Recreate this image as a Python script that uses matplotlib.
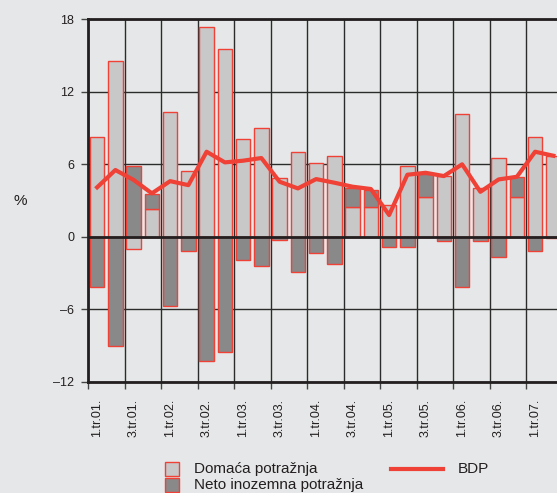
import matplotlib
matplotlib.use('Agg')
import matplotlib.pyplot as plt
from matplotlib.patches import Rectangle
from matplotlib.lines import Line2D
import numpy as np

plt.rcParams['font.family'] = ['Liberation Sans', 'DejaVu Sans']

# quarters 1.tr.01. .. 2.tr.07.
quarters = [f"{q}.tr.{y:02d}." for y in range(1, 8) for q in range(1, 5)][:26]

domaca = [8.27, 14.53, -1.02, 2.27, 10.34, 5.43, 17.32, 15.55, 8.05, 8.96,
          4.9, 7.0, 6.12, 6.67, 2.46, 2.46, 2.65, 5.82, 3.31, 5.05,
          10.15, 4.05, 6.48, 3.31, 8.27, 6.7]
neto = [-4.14, -9.04, 5.85, 1.24, -5.73, -1.18, -10.25, -9.56, -1.9, -2.4,
        -0.3, -2.95, -1.38, -2.26, 1.54, 1.4, -0.83, -0.83, 1.88, -0.33,
        -4.13, -0.33, -1.7, 1.6, -1.18, -0.14]
bdp = [4.09, 5.52, 4.7, 3.59, 4.6, 4.27, 7.03, 6.15, 6.29, 6.51,
       4.55, 4.0, 4.77, 4.47, 4.14, 3.95, 1.8, 5.13, 5.29, 5.02,
       5.99, 3.72, 4.74, 4.96, 7.03, 6.7]

yticks = [-12, -6, 0, 6, 12, 18]
ytick_labels = ['\u201312', '\u20136', '0', '6', '12', '18']

bg = '#e6e7e8'
red = '#ef4136'
light = '#c8c8c9'
dark = '#89898a'
ink = '#231f20'

fig = plt.figure(figsize=(5.57, 4.93), dpi=100, facecolor=bg)
ax = fig.add_axes([88 / 557, 111 / 493, 27 * 18.25 / 557, 363 / 493])
ax.set_facecolor(bg)

x = np.arange(len(quarters)) + 0.5
dom = np.array(domaca)
net = np.array(neto)
same_sign = np.sign(dom) == np.sign(net)
net_bottom = np.where(same_sign, dom, 0)

ax.bar(x, dom, width=0.8, color=light, edgecolor=red, linewidth=1, zorder=2)
ax.bar(x, net, bottom=net_bottom, width=0.8, color=dark, edgecolor=red,
       linewidth=1, zorder=2)
ax.plot(x, bdp, color=red, linewidth=3, zorder=4)

ax.axhline(0, color=ink, linewidth=2, zorder=3)

ax.set_xlim(0, 27)
ax.set_ylim(-12, 18)
ax.set_yticks(yticks)
ax.set_yticklabels(ytick_labels)
ax.set_xticks(np.arange(0, 27, 2))
ax.set_xticklabels([])
ax.set_xticks(x[::2], minor=True)
ax.set_xticklabels(quarters[::2], minor=True, rotation=90)
ax.tick_params(axis='x', which='minor', length=0, pad=12, labelsize=9,
               labelcolor=ink)
ax.tick_params(axis='x', which='major', length=5, width=1, color='#444')
ax.tick_params(axis='y', length=5, width=1, color='#444', labelsize=9,
               labelcolor=ink, pad=5)

ax.grid(True, which='major', color='#2b2b2b', linewidth=1, zorder=0)
ax.set_axisbelow(True)

for s in ['left', 'top', 'bottom']:
    ax.spines[s].set_linewidth(2)
    ax.spines[s].set_color(ink)
ax.spines['right'].set_visible(False)

fig.text(20 / 557, 1 - 201 / 493, '%', fontsize=11, color=ink,
         ha='center', va='center')

# legend drawn by hand
W, H = 557, 493
def fx(px): return px / W
def fy(py): return 1 - py / H

row1, row2 = 469, 485
fig.patches.append(Rectangle((fx(165), fy(row1 + 7)), 14 / W, 14 / H,
                             transform=fig.transFigure, facecolor=light,
                             edgecolor=red, linewidth=1))
fig.patches.append(Rectangle((fx(165), fy(row2 + 7)), 14 / W, 14 / H,
                             transform=fig.transFigure, facecolor=dark,
                             edgecolor=red, linewidth=1))
fig.lines.append(Line2D([fx(391), fx(443)], [fy(row1), fy(row1)],
                        transform=fig.transFigure, color=red, linewidth=3))
fig.text(fx(194), fy(row1), 'Domaća potražnja', fontsize=11, color=ink,
         va='center')
fig.text(fx(194), fy(row2), 'Neto inozemna potražnja', fontsize=11,
         color=ink, va='center')
fig.text(fx(458), fy(row1), 'BDP', fontsize=11, color=ink, va='center')

fig.savefig('out.png', dpi=100, facecolor=bg)
